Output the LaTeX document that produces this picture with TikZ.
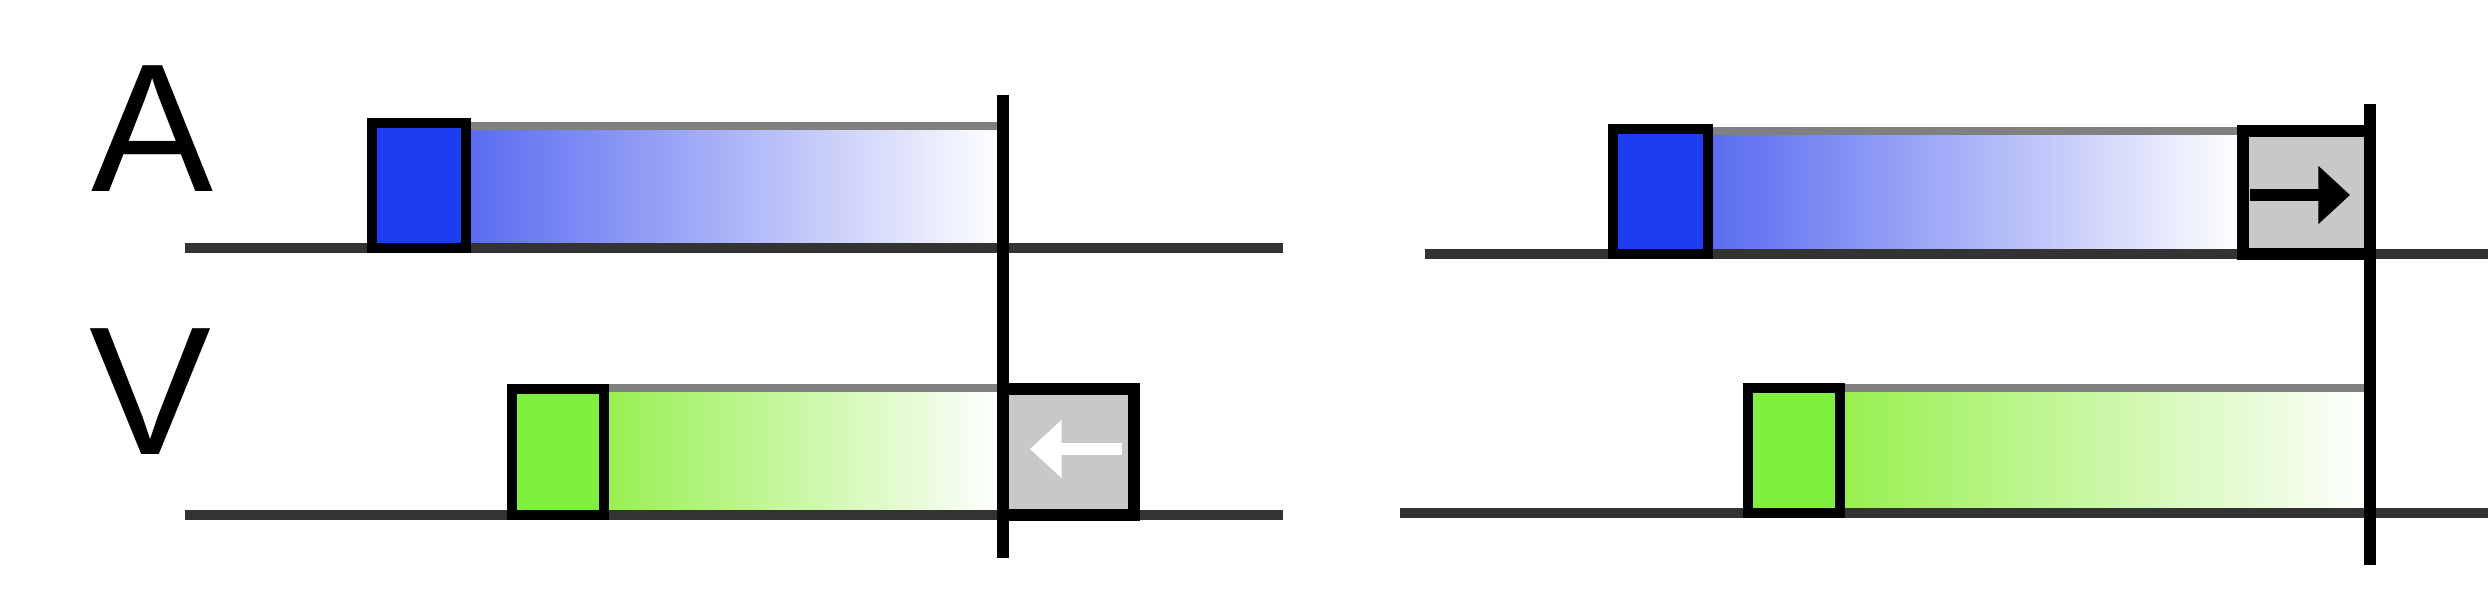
\documentclass[tikz,border=0pt]{standalone}
\usepackage{fontspec}
\setmainfont{Liberation Sans}
\usetikzlibrary{arrows.meta}
\definecolor{boxblue}{HTML}{1E3CF2}
\definecolor{gradblue}{HTML}{5A6CF0}
\definecolor{boxgreen}{HTML}{80F040}
\definecolor{gradgreen}{HTML}{98F050}
\definecolor{boxgrey}{HTML}{C8C8C8}
\definecolor{baseln}{HTML}{333333}
\definecolor{topln}{HTML}{808080}
\tikzset{
  baseline/.style={draw=baseln, line width=2.8pt},
  topedge/.style={draw=topln, line width=2.2pt},
  startbox/.style={draw=black, line width=2.9pt},
  greybox/.style={draw=black, line width=3.2pt, fill=boxgrey},
  cursor/.style={draw=black, line width=3.4pt},
  bluebar/.style={left color=gradblue, middle color=gradblue!62!white, right color=white},
  greenbar/.style={left color=gradgreen, middle color=gradgreen!62!white, right color=white},
  lbl/.style={font=\fontsize{52}{52}\selectfont, inner sep=0pt, anchor=base}
}
\begin{document}
\begin{tikzpicture}[x=0.01cm, y=-0.01cm]
\useasboundingbox (0,0) rectangle (2488,592);
% labels
\node[lbl] (labA) at (152,192) {A};
\node[lbl] (labV) at (150,455) {V};
% ---------------- left panel ----------------
\shade[bluebar] (468,125) rectangle (1003,248);
\draw[topedge] (468,126) -- (1003,126);
\shade[greenbar] (607,388) rectangle (1003,515);
\draw[topedge] (607,388) -- (1003,388);
\draw[baseline] (185,248) -- (1283,248);
\draw[baseline] (185,515) -- (1283,515);
\draw[startbox, fill=boxblue] (372,123) rectangle (466,248);
\draw[startbox, fill=boxgreen] (512,389) rectangle (604,515);
\draw[greybox] (1003,389) rectangle (1134,515);
\draw[white, line width=3.2pt, -{Triangle[length=9pt,width=16pt]}] (1122,449) -- (1030,449);
\draw[cursor] (1003,95) -- (1003,558);
% ---------------- right panel ----------------
\shade[bluebar] (1712,130) rectangle (2243,254);
\draw[topedge] (1712,131) -- (2243,131);
\shade[greenbar] (1844,388) rectangle (2370,513);
\draw[topedge] (1844,388) -- (2370,388);
\draw[baseline] (1425,254) -- (2488,254);
\draw[baseline] (1400,513) -- (2488,513);
\draw[startbox, fill=boxblue] (1613,129) rectangle (1708,254);
\draw[startbox, fill=boxgreen] (1748,388) rectangle (1840,513);
\draw[greybox] (2243,131) rectangle (2370,254);
\draw[black, line width=3.2pt, -{Triangle[length=9pt,width=16pt]}] (2250,195) -- (2350,195);
\draw[cursor] (2370,104) -- (2370,565);
\end{tikzpicture}
\end{document}
